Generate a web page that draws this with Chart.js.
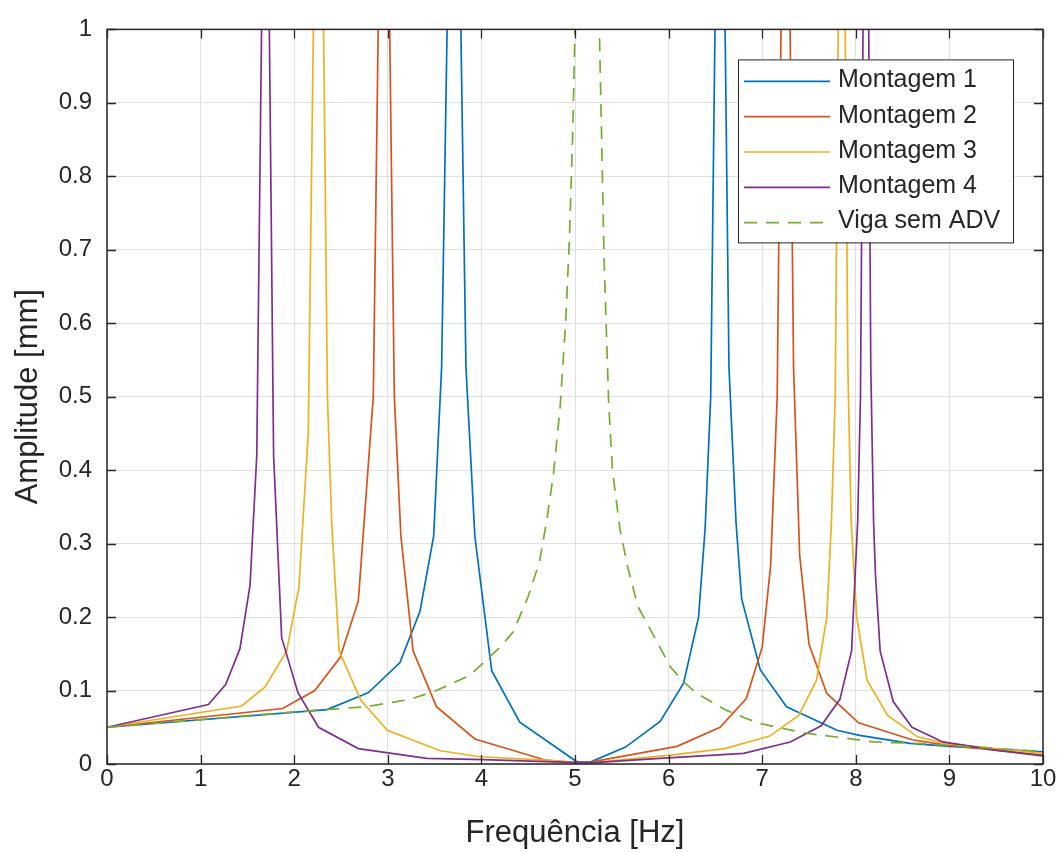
<!DOCTYPE html>
<html>
<head>
<meta charset="utf-8">
<script src="https://cdn.jsdelivr.net/npm/chart.js@4/dist/chart.umd.min.js"></script>
<style>
  html, body { margin: 0; padding: 0; background: #ffffff; }
  #wrap { width: 1063px; height: 852px; }
</style>
</head>
<body>
<div id="wrap"><canvas id="c" width="1063" height="852"></canvas></div>
<script>
// ---- Data ----
const seriesNames = ['Montagem 1', 'Montagem 2', 'Montagem 3', 'Montagem 4', 'Viga sem ADV'];

const freqM1 = [0, 2.35, 2.79, 3.13, 3.344, 3.49, 3.575, 3.71, 3.835, 3.93, 4.11, 4.41, 5.02, 5.17, 5.54, 5.91, 6.16, 6.32, 6.39, 6.45, 6.55, 6.645, 6.72, 6.78, 6.98, 7.26, 7.80, 8.04, 8.58, 9.0, 10];
const ampM1  = [0.05, 0.074, 0.097, 0.138, 0.208, 0.31, 0.54, 1.6, 0.54, 0.31, 0.127, 0.057, 0.003, 0.003, 0.023, 0.058, 0.11, 0.20, 0.32, 0.5, 1.6, 0.54, 0.33, 0.225, 0.128, 0.078, 0.046, 0.039, 0.028, 0.024, 0.0167];

const freqM2 = [0, 1.877, 2.22, 2.49, 2.685, 2.845, 2.96, 3.07, 3.14, 3.27, 3.52, 3.93, 4.68, 5.02, 5.18, 6.09, 6.55, 6.83, 7.0, 7.09, 7.16, 7.25, 7.335, 7.40, 7.50, 7.69, 8.03, 8.6, 8.95, 10];
const ampM2  = [0.05, 0.0755, 0.10, 0.145, 0.222, 0.5, 1.6, 0.5, 0.31, 0.154, 0.078, 0.034, 0.0054, 0.002, 0.003, 0.024, 0.05, 0.089, 0.159, 0.27, 0.5, 1.6, 0.54, 0.285, 0.163, 0.096, 0.056, 0.033, 0.026, 0.012];

const freqM3 = [0, 1.439, 1.688, 1.92, 2.05, 2.15, 2.265, 2.355, 2.40, 2.48, 2.71, 2.995, 3.56, 3.985, 4.73, 5.02, 5.2, 6.02, 6.6, 7.08, 7.39, 7.58, 7.69, 7.74, 7.78, 7.85, 7.915, 7.95, 8.01, 8.12, 8.34, 8.66, 8.95, 10];
const ampM3  = [0.05, 0.079, 0.105, 0.154, 0.24, 0.45, 1.6, 0.5, 0.33, 0.154, 0.087, 0.046, 0.018, 0.0099, 0.005, 0.002, 0.002, 0.012, 0.021, 0.038, 0.066, 0.114, 0.2, 0.33, 0.5, 1.6, 0.54, 0.33, 0.2, 0.114, 0.066, 0.037, 0.028, 0.0145];

const freqM4 = [0, 1.083, 1.268, 1.42, 1.528, 1.60, 1.695, 1.78, 1.866, 2.04, 2.26, 2.685, 3.415, 4.02, 5.02, 5.2, 5.91, 6.80, 7.30, 7.63, 7.83, 7.955, 8.02, 8.05, 8.11, 8.16, 8.19, 8.21, 8.26, 8.40, 8.60, 8.93, 9.49, 10];
const ampM4  = [0.05, 0.081, 0.108, 0.157, 0.243, 0.42, 1.5, 0.42, 0.172, 0.097, 0.05, 0.021, 0.0077, 0.006, 0.002, 0.002, 0.0077, 0.0145, 0.03, 0.052, 0.088, 0.154, 0.33, 0.5, 1.6, 0.54, 0.33, 0.258, 0.154, 0.085, 0.05, 0.03, 0.019, 0.011];

const freqViga = [0, 2.0, 2.77, 3.0, 3.24, 3.52, 3.88, 4.2, 4.34, 4.50, 4.62, 4.70, 4.77, 4.84, 4.90, 4.94, 4.975, 5.0, 5.155, 5.26, 5.28, 5.31, 5.36, 5.40, 5.48, 5.56, 5.67, 6.02, 6.16, 6.30, 6.62, 6.83, 6.98, 7.46, 7.90, 8.19, 8.67, 10];
const ampViga  = [0.05, 0.071, 0.078, 0.083, 0.088, 0.10, 0.121, 0.159, 0.18, 0.228, 0.275, 0.333, 0.395, 0.484, 0.60, 0.714, 0.857, 1.0, 4.0, 1.0, 0.88, 0.69, 0.49, 0.40, 0.32, 0.27, 0.215, 0.132, 0.112, 0.096, 0.073, 0.062, 0.055, 0.042, 0.035, 0.03, 0.028, 0.017];

const xTickLabels = ['0', '1', '2', '3', '4', '5', '6', '7', '8', '9', '10'];
const yTickLabels = ['0', '0.1', '0.2', '0.3', '0.4', '0.5', '0.6', '0.7', '0.8', '0.9', '1'];

const xTitle = 'Frequência [Hz]';
const yTitle = 'Amplitude [mm]';

// ---- Styles ----
const colors = ['#0072BD', '#D95319', '#EDB120', '#7E2F8E', '#77AC30'];
const dashes = [[], [], [], [], [13, 9]];
const FONT = "'Liberation Sans', Arial, Helvetica, sans-serif";
const AXIS_COLOR = '#262626';
const GRID_COLOR = '#dfdfdf';

const freqs = [freqM1, freqM2, freqM3, freqM4, freqViga];
const amps = [ampM1, ampM2, ampM3, ampM4, ampViga];

const datasets = seriesNames.map((name, i) => ({
  label: name,
  data: freqs[i].map((f, k) => ({ x: f, y: amps[i][k] })),
  borderColor: colors[i],
  backgroundColor: colors[i],
  borderWidth: 1.7,
  borderDash: dashes[i],
  pointRadius: 0,
  tension: 0,
  fill: false,
  order: seriesNames.length - i
}));

// Box + inward ticks (MATLAB style)
const boxPlugin = {
  id: 'matlabBox',
  afterDatasetsDraw(chart) {
    const { ctx, chartArea: a, scales } = chart;
    const tl = 9;
    ctx.save();
    ctx.strokeStyle = AXIS_COLOR;
    ctx.lineWidth = 1.3;
    ctx.beginPath();
    scales.x.ticks.forEach(t => {
      const px = Math.round(scales.x.getPixelForValue(t.value)) + 0.5;
      ctx.moveTo(px, a.bottom); ctx.lineTo(px, a.bottom - tl);
      ctx.moveTo(px, a.top); ctx.lineTo(px, a.top + tl);
    });
    scales.y.ticks.forEach(t => {
      const py = Math.round(scales.y.getPixelForValue(t.value)) + 0.5;
      ctx.moveTo(a.left, py); ctx.lineTo(a.left + tl, py);
      ctx.moveTo(a.right, py); ctx.lineTo(a.right - tl, py);
    });
    ctx.stroke();
    ctx.lineWidth = 1.5;
    ctx.strokeRect(a.left, a.top, a.right - a.left, a.bottom - a.top);
    ctx.restore();
  },
  afterDraw(chart) {
    // Legend drawn inside axes, top-right
    const { ctx, chartArea: a } = chart;
    const bx = a.right - 305, by = a.top + 30, bw = 275, bh = 183;
    ctx.save();
    ctx.fillStyle = '#ffffff';
    ctx.fillRect(bx, by, bw, bh);
    ctx.strokeStyle = AXIS_COLOR;
    ctx.lineWidth = 1;
    ctx.strokeRect(bx + 0.5, by + 0.5, bw, bh);
    ctx.font = '25px ' + FONT;
    ctx.textBaseline = 'middle';
    ctx.textAlign = 'left';
    chart.data.datasets.forEach((ds, i) => {
      const y = by + 22 + i * 35.3;
      ctx.strokeStyle = ds.borderColor;
      ctx.lineWidth = 1.7;
      ctx.setLineDash(ds.borderDash || []);
      ctx.beginPath();
      ctx.moveTo(bx + 6, y); ctx.lineTo(bx + 92, y);
      ctx.stroke();
      ctx.setLineDash([]);
      ctx.fillStyle = AXIS_COLOR;
      ctx.fillText(ds.label, bx + 100, y - 1);
    });
    ctx.restore();
  }
};

new Chart(document.getElementById('c'), {
  type: 'line',
  data: { datasets },
  plugins: [boxPlugin],
  options: {
    responsive: false,
    animation: false,
    devicePixelRatio: 1,
    layout: { padding: { left: 0, right: 20, top: 26, bottom: 0 } },
    plugins: { legend: { display: false }, tooltip: { enabled: false } },
    scales: {
      x: {
        type: 'linear', min: 0, max: 10,
        afterFit(s) { s.height = 88; },
        ticks: {
          stepSize: 1, color: AXIS_COLOR, padding: 1, maxRotation: 0, autoSkip: false,
          font: { family: FONT, size: 24, lineHeight: 1.2 },
          callback: (v, i) => xTickLabels[i]
        },
        grid: { color: GRID_COLOR, lineWidth: 1, drawTicks: false },
        border: { display: false },
        title: {
          display: true, text: xTitle, color: AXIS_COLOR,
          font: { family: FONT, size: 31, lineHeight: 1 },
          padding: { top: 0, bottom: 3.5 }
        }
      },
      y: {
        type: 'linear', min: 0, max: 1,
        afterFit(s) { s.width = 107; },
        ticks: {
          stepSize: 0.1, color: AXIS_COLOR, padding: 15, autoSkip: false,
          font: { family: FONT, size: 24, lineHeight: 1.2 },
          callback: (v, i) => yTickLabels[i]
        },
        grid: { color: GRID_COLOR, lineWidth: 1, drawTicks: false },
        border: { display: false },
        title: {
          display: true, text: yTitle, color: AXIS_COLOR,
          font: { family: FONT, size: 31, lineHeight: 1 },
          padding: { top: 12.5, bottom: 0 }
        }
      }
    }
  }
});
</script>
</body>
</html>
